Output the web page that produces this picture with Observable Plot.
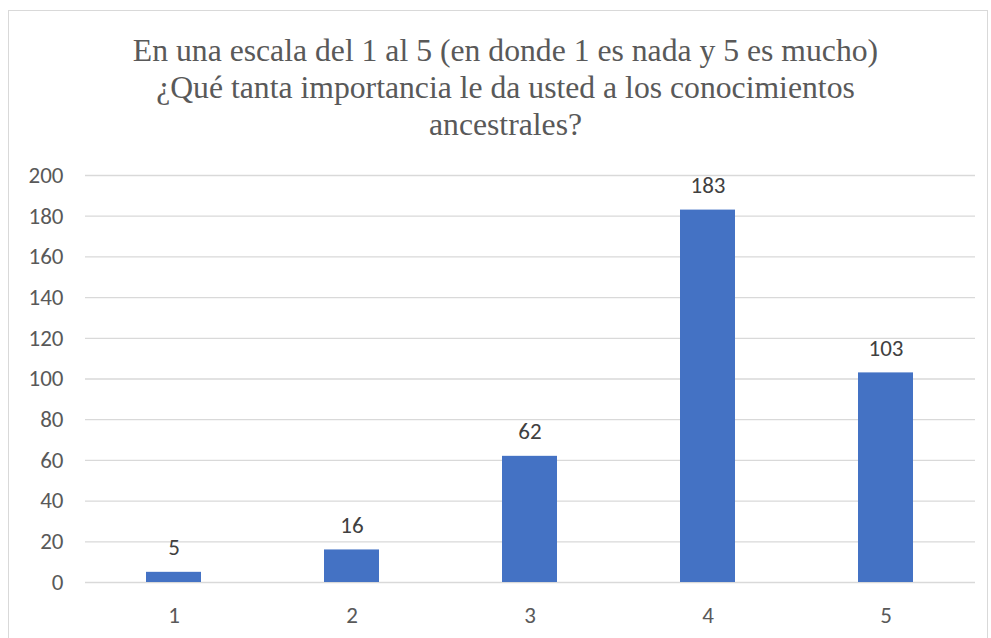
<!DOCTYPE html>
<html>
<head>
<meta charset="utf-8">
<script src="https://cdn.jsdelivr.net/npm/d3@7"></script>
<script src="https://cdn.jsdelivr.net/npm/@observablehq/plot@0.6"></script>
<style>
  html, body { margin: 0; padding: 0; background: #fff; }
  #wrap { position: relative; width: 991px; height: 638px; overflow: hidden; background: #fff; }
  #frame { position: absolute; left: 8px; top: 10px; width: 980px; height: 700px; border: 1px solid #d9d9d9; box-sizing: border-box; }
  #title { position: absolute; left: 10px; top: 0; width: 991px; height: 150px; box-sizing: border-box; padding-top: 32px;
           text-align: center; font-family: 'Liberation Serif', 'Times New Roman', serif; font-size: 31.7px; line-height: 37px; color: #595959; white-space: nowrap; }
  #chart { position: absolute; left: 0; top: 150px; }
</style>
</head>
<body>
<div id="wrap">
  <div id="frame"></div>
  <div id="title">En una escala del 1 al 5 (en donde 1 es nada y 5 es mucho)<br>¿Qué tanta importancia le da usted a los conocimientos<br>ancestrales?</div>
  <div id="chart"></div>
</div>
<script>
const categories = ["1", "2", "3", "4", "5"];
const values = [5, 16, 62, 183, 103];
const yTicks = [0, 20, 40, 60, 80, 100, 120, 140, 160, 180, 200];

const data = categories.map((c, i) => ({cat: c, value: values[i]}));
const FONT = "Carlito, Calibri, Lato, sans-serif";

const chart = Plot.plot({
  width: 991,
  height: 488,
  marginTop: 25,
  marginBottom: 56,
  marginLeft: 85,
  marginRight: 16,
  style: "font-family: Carlito, Calibri, Lato, sans-serif; font-size: 23px; background: transparent;",
  x: {domain: categories, paddingInner: 0.69, paddingOuter: 0.345, label: null},
  y: {domain: [0, 200], label: null},
  marks: [
    Plot.gridY(yTicks, {stroke: "#d9d9d9", strokeOpacity: 1, strokeWidth: 1.3}),
    Plot.barY(data, {x: "cat", y: "value", fill: "#4472C4"}),
    Plot.text(data, {x: "cat", y: "value", text: d => String(d.value), lineAnchor: "bottom", dy: -17, fill: "#404040", fontSize: 23, fontFamily: FONT}),
    Plot.axisX({tickSize: 0, tickPadding: 24, color: "#595959", fontSize: 23, fontFamily: FONT}),
    Plot.axisY(yTicks, {tickSize: 0, tickPadding: 22, color: "#595959", fontSize: 23, fontFamily: FONT})
  ]
});
document.getElementById("chart").appendChild(chart);
</script>
</body>
</html>
